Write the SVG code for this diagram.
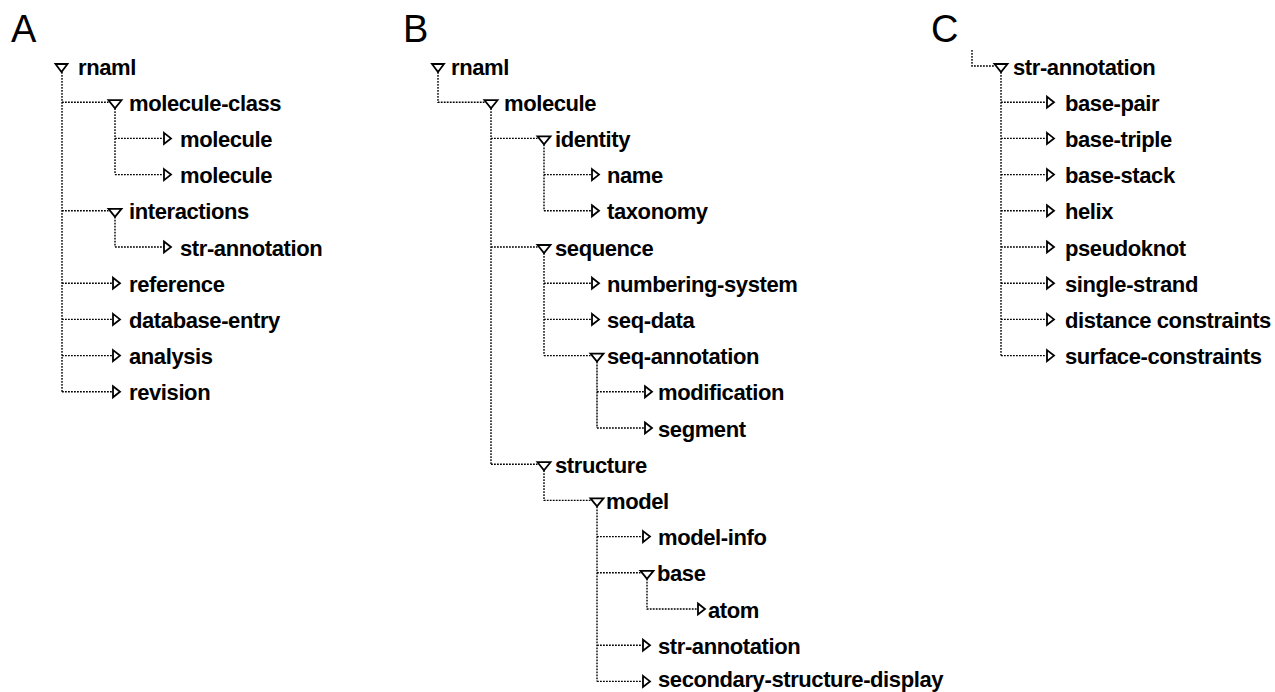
<svg xmlns="http://www.w3.org/2000/svg" width="1275" height="692" viewBox="0 0 1275 692">
<style>
.t{font-family:"Liberation Sans",Arial,Helvetica,sans-serif;font-size:22px;letter-spacing:-0.4px;font-weight:bold;fill:#000}
.lbl{font-family:"Liberation Sans",Arial,Helvetica,sans-serif;font-size:38px;fill:#000}
.c{fill:none;stroke:#000;stroke-width:1.4;stroke-dasharray:1.8 1.2}
.tri{fill:#fff;stroke:#000;stroke-width:1.8;stroke-linejoin:miter}
</style>
<rect width="1275" height="692" fill="#fff"/>
<g id="labels">
<text class="lbl" x="11" y="42">A</text>
<text class="lbl" x="403" y="42">B</text>
<text class="lbl" x="931" y="42">C</text>
</g>
<g id="connectors">
<path class="c" d="M62 72V391.8"/>
<path class="c" d="M62 102.2H108.5M62 210.8H108.5M62 283.2H113M62 319.4H113M62 355.6H113M62 391.8H113"/>
<path class="c" d="M115 108.2V174.6M115 138.4H164M115 174.6H164"/>
<path class="c" d="M115 216.8V247M115 247H164"/>
<path class="c" d="M438 72V102.2H484.5"/>
<path class="c" d="M491 108.2V464.2M491 138.4H537.5M491 247H537.5M491 464.2H537.5"/>
<path class="c" d="M544 144.4V210.8M544 174.6H592M544 210.8H592"/>
<path class="c" d="M544 253V355.6M544 283.2H592M544 319.4H592M544 355.6H590.5"/>
<path class="c" d="M597 361.6V428M597 391.8H645M597 428H645"/>
<path class="c" d="M544 470.2V500.4H590.5"/>
<path class="c" d="M597 506.4V681.4M597 536.6H643M597 572.8H640.5M597 645.2H643M597 681.4H643"/>
<path class="c" d="M647 578.8V609H698"/>
<path class="c" d="M972 50V66H994.5"/>
<path class="c" d="M1001 72V355.6M1001 102.2H1047M1001 138.4H1047M1001 174.6H1047M1001 210.8H1047M1001 247H1047M1001 283.2H1047M1001 319.4H1047M1001 355.6H1047"/>
</g>
<g id="A-rnaml"><path class="tri" d="M55.5 64H67.5L61.5 72Z"/><text class="t" x="78" y="74.5">rnaml</text></g>
<g id="A-molecule-class"><path class="tri" d="M108.5 100.2H121.5L115 108.2Z"/><text class="t" x="129" y="110.7">molecule-class</text></g>
<g id="A-molecule-1"><path class="tri" d="M164 132.9L171 138.4L164 143.9Z"/><text class="t" x="180" y="146.9">molecule</text></g>
<g id="A-molecule-2"><path class="tri" d="M164 169.1L171 174.6L164 180.1Z"/><text class="t" x="180" y="183.1">molecule</text></g>
<g id="A-interactions"><path class="tri" d="M108.5 208.8H121.5L115 216.8Z"/><text class="t" x="129" y="219.3">interactions</text></g>
<g id="A-str-annotation"><path class="tri" d="M164 241.5L171 247L164 252.5Z"/><text class="t" x="180" y="255.5">str-annotation</text></g>
<g id="A-reference"><path class="tri" d="M113 277.7L120 283.2L113 288.7Z"/><text class="t" x="129" y="291.7">reference</text></g>
<g id="A-database-entry"><path class="tri" d="M113 313.9L120 319.4L113 324.9Z"/><text class="t" x="129" y="327.9">database-entry</text></g>
<g id="A-analysis"><path class="tri" d="M113 350.1L120 355.6L113 361.1Z"/><text class="t" x="129" y="364.1">analysis</text></g>
<g id="A-revision"><path class="tri" d="M113 386.3L120 391.8L113 397.3Z"/><text class="t" x="129" y="400.3">revision</text></g>
<g id="B-rnaml"><path class="tri" d="M432 64H444L438 72Z"/><text class="t" x="451" y="74.5">rnaml</text></g>
<g id="B-molecule"><path class="tri" d="M484.5 100.2H497.5L491 108.2Z"/><text class="t" x="504" y="110.7">molecule</text></g>
<g id="B-identity"><path class="tri" d="M537.5 136.4H550.5L544 144.4Z"/><text class="t" x="555" y="146.9">identity</text></g>
<g id="B-name"><path class="tri" d="M592 169.1L599 174.6L592 180.1Z"/><text class="t" x="607" y="183.1">name</text></g>
<g id="B-taxonomy"><path class="tri" d="M592 205.3L599 210.8L592 216.3Z"/><text class="t" x="607" y="219.3">taxonomy</text></g>
<g id="B-sequence"><path class="tri" d="M537.5 245H550.5L544 253Z"/><text class="t" x="555" y="255.5">sequence</text></g>
<g id="B-numbering-system"><path class="tri" d="M592 277.7L599 283.2L592 288.7Z"/><text class="t" x="607" y="291.7">numbering-system</text></g>
<g id="B-seq-data"><path class="tri" d="M592 313.9L599 319.4L592 324.9Z"/><text class="t" x="607" y="327.9">seq-data</text></g>
<g id="B-seq-annotation"><path class="tri" d="M590.5 353.6H603.5L597 361.6Z"/><text class="t" x="607" y="364.1">seq-annotation</text></g>
<g id="B-modification"><path class="tri" d="M645 386.3L652 391.8L645 397.3Z"/><text class="t" x="658" y="400.3">modification</text></g>
<g id="B-segment"><path class="tri" d="M645 422.5L652 428L645 433.5Z"/><text class="t" x="658" y="436.5">segment</text></g>
<g id="B-structure"><path class="tri" d="M537.5 462.2H550.5L544 470.2Z"/><text class="t" x="555" y="472.7">structure</text></g>
<g id="B-model"><path class="tri" d="M590.5 498.4H603.5L597 506.4Z"/><text class="t" x="606" y="508.9">model</text></g>
<g id="B-model-info"><path class="tri" d="M643 531.1L650 536.6L643 542.1Z"/><text class="t" x="658" y="545.1">model-info</text></g>
<g id="B-base"><path class="tri" d="M640.5 570.8H653.5L647 578.8Z"/><text class="t" x="657" y="581.3">base</text></g>
<g id="B-atom"><path class="tri" d="M698 603.5L705 609L698 614.5Z"/><text class="t" x="708" y="617.5">atom</text></g>
<g id="B-str-annotation"><path class="tri" d="M643 639.7L650 645.2L643 650.7Z"/><text class="t" x="658" y="653.7">str-annotation</text></g>
<g id="B-secondary-structure-display"><path class="tri" d="M643 675.9L650 681.4L643 686.9Z"/><text class="t" x="658" y="686.5">secondary-structure-display</text></g>
<g id="C-str-annotation"><path class="tri" d="M994.5 64H1007.5L1001 72Z"/><text class="t" x="1013" y="74.5">str-annotation</text></g>
<g id="C-base-pair"><path class="tri" d="M1047 96.7L1054 102.2L1047 107.7Z"/><text class="t" x="1065" y="110.7">base-pair</text></g>
<g id="C-base-triple"><path class="tri" d="M1047 132.9L1054 138.4L1047 143.9Z"/><text class="t" x="1065" y="146.9">base-triple</text></g>
<g id="C-base-stack"><path class="tri" d="M1047 169.1L1054 174.6L1047 180.1Z"/><text class="t" x="1065" y="183.1">base-stack</text></g>
<g id="C-helix"><path class="tri" d="M1047 205.3L1054 210.8L1047 216.3Z"/><text class="t" x="1065" y="219.3">helix</text></g>
<g id="C-pseudoknot"><path class="tri" d="M1047 241.5L1054 247L1047 252.5Z"/><text class="t" x="1065" y="255.5">pseudoknot</text></g>
<g id="C-single-strand"><path class="tri" d="M1047 277.7L1054 283.2L1047 288.7Z"/><text class="t" x="1065" y="291.7">single-strand</text></g>
<g id="C-distance-constraints"><path class="tri" d="M1047 313.9L1054 319.4L1047 324.9Z"/><text class="t" x="1065" y="327.9">distance constraints</text></g>
<g id="C-surface-constraints"><path class="tri" d="M1047 350.1L1054 355.6L1047 361.1Z"/><text class="t" x="1065" y="364.1">surface-constraints</text></g>
</svg>
